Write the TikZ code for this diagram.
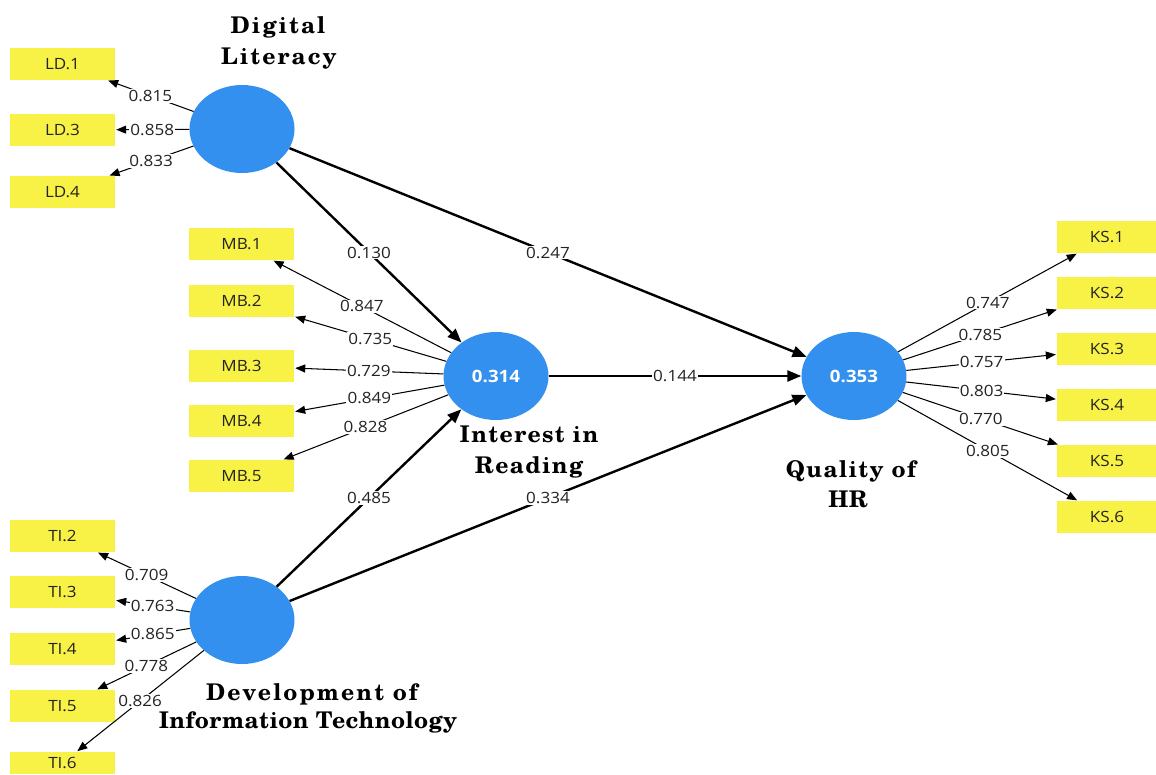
\documentclass[tikz,border=0pt]{standalone}
\usepackage{fontspec}
\usetikzlibrary{shapes.geometric,arrows.meta}
\newfontfamily\lblfont{Open Sans}[FakeStretch=1.1]
\newfontfamily\ttlfont{texgyreschola-bold.otf}[LetterSpace=2]
\newfontfamily\ttlfontm{texgyreschola-bold.otf}[LetterSpace=6]
\newfontfamily\ttlfontw{texgyreschola-bold.otf}[LetterSpace=9]
\definecolor{lvblue}{RGB}{52,144,238}
\definecolor{mvyellow}{RGB}{248,242,70}
\definecolor{lbltext}{RGB}{35,35,35}
\begin{document}
\begin{tikzpicture}[x=1pt,y=-1pt,
  lv/.style={ellipse, fill=lvblue, minimum width=105pt, minimum height=88pt, inner sep=0pt, text=white, font=\lblfont\bfseries\fontsize{17}{17}\selectfont},
  mv/.style={rectangle, fill=mvyellow, minimum width=105pt, minimum height=32pt, inner sep=0pt, text=lbltext, font=\lblfont\fontsize{15.5}{16}\selectfont},
  load/.style={draw=black, line width=1.05pt, -{Triangle[length=10pt,width=8pt]}, shorten >=1pt},
  pathar/.style={draw=black, line width=2.4pt, -{Triangle[length=14pt,width=11pt]}},
  coef/.style={fill=white, inner sep=1.2pt, text=lbltext, font=\lblfont\fontsize{15.5}{16}\selectfont},
  ttl/.style={anchor=base, inner sep=0pt, font=\ttlfont\fontsize{23}{28}\selectfont},
  ttlm/.style={ttl, font=\ttlfontm\fontsize{23}{28}\selectfont},
  ttlw/.style={ttl, font=\ttlfontw\fontsize{23}{28}\selectfont}
]
\useasboundingbox (0,0) rectangle (1156,774);
% latent variables
\node[lv] (dl) at (242,129) {};
\node[lv] (ir) at (496,376) {0.314};
\node[lv] (qhr) at (854,376) {0.353};
\node[lv] (dit) at (242,620) {};
% indicators
\node[mv] (ld1) at (62.5,64) {LD.1};
\node[mv] (ld3) at (62.5,130) {LD.3};
\node[mv] (ld4) at (62.5,192) {LD.4};
\node[mv] (mb1) at (241.5,244) {MB.1};
\node[mv] (mb2) at (241.5,301) {MB.2};
\node[mv] (mb3) at (241.5,366) {MB.3};
\node[mv] (mb4) at (241.5,421) {MB.4};
\node[mv] (mb5) at (241.5,476) {MB.5};
\node[mv] (ti2) at (62.5,536) {TI.2};
\node[mv] (ti3) at (62.5,592) {TI.3};
\node[mv] (ti4) at (62.5,649) {TI.4};
\node[mv] (ti5) at (62.5,706) {TI.5};
\node[mv, minimum height=22pt] (ti6) at (62.5,763) {TI.6};
\node[mv, minimum width=100pt] (ks1) at (1107,237) {KS.1};
\node[mv, minimum width=100pt] (ks2) at (1107,293) {KS.2};
\node[mv, minimum width=100pt] (ks3) at (1107,349) {KS.3};
\node[mv, minimum width=100pt] (ks4) at (1107,405) {KS.4};
\node[mv, minimum width=100pt] (ks5) at (1107,461) {KS.5};
\node[mv, minimum width=100pt] (ks6) at (1107,517) {KS.6};
% titles
\node[ttlw] (dlt1) at (278,33) {Digital};
\node[ttlw] (dlt2) at (279,64) {Literacy};
\node[ttlm] (irt1) at (529,442) {Interest in};
\node[ttlm] (irt2) at (529,473) {Reading};
\node[ttlm] (qt1) at (851,477) {Quality of};
\node[ttl] (qt2) at (848,507) {HR};
\node[ttlw] (dt1) at (312,700) {Development of};
\node[ttl] (dt2) at (308,728) {Information Technology};
% loadings
\draw[load] (dl) -- node[coef]{0.815} (ld1);
\draw[load] (dl) -- node[coef]{0.858} (ld3);
\draw[load] (dl) -- node[coef]{0.833} (ld4);
\draw[load] (ir) -- node[coef]{0.847} (mb1);
\draw[load] (ir) -- node[coef]{0.735} (mb2);
\draw[load] (ir) -- node[coef]{0.729} (mb3);
\draw[load] (ir) -- node[coef]{0.849} (mb4);
\draw[load] (ir) -- node[coef]{0.828} (mb5);
\draw[load] (dit) -- node[coef]{0.709} (ti2);
\draw[load] (dit) -- node[coef]{0.763} (ti3);
\draw[load] (dit) -- node[coef]{0.865} (ti4);
\draw[load] (dit) -- node[coef]{0.778} (ti5);
\draw[load] (dit) -- node[coef]{0.826} (ti6);
\draw[load] (qhr) -- node[coef]{0.747} (ks1);
\draw[load] (qhr) -- node[coef]{0.785} (ks2);
\draw[load] (qhr) -- node[coef]{0.757} (ks3);
\draw[load] (qhr) -- node[coef]{0.803} (ks4);
\draw[load] (qhr) -- node[coef]{0.770} (ks5);
\draw[load] (qhr) -- node[coef]{0.805} (ks6);
% structural paths
\draw[pathar] (dl) -- node[coef]{0.130} (ir);
\draw[pathar] (dl) -- node[coef]{0.247} (qhr);
\draw[pathar] (ir) -- node[coef]{0.144} (qhr);
\draw[pathar] (dit) -- node[coef]{0.485} (ir);
\draw[pathar] (dit) -- node[coef]{0.334} (qhr);
\end{tikzpicture}
\end{document}
